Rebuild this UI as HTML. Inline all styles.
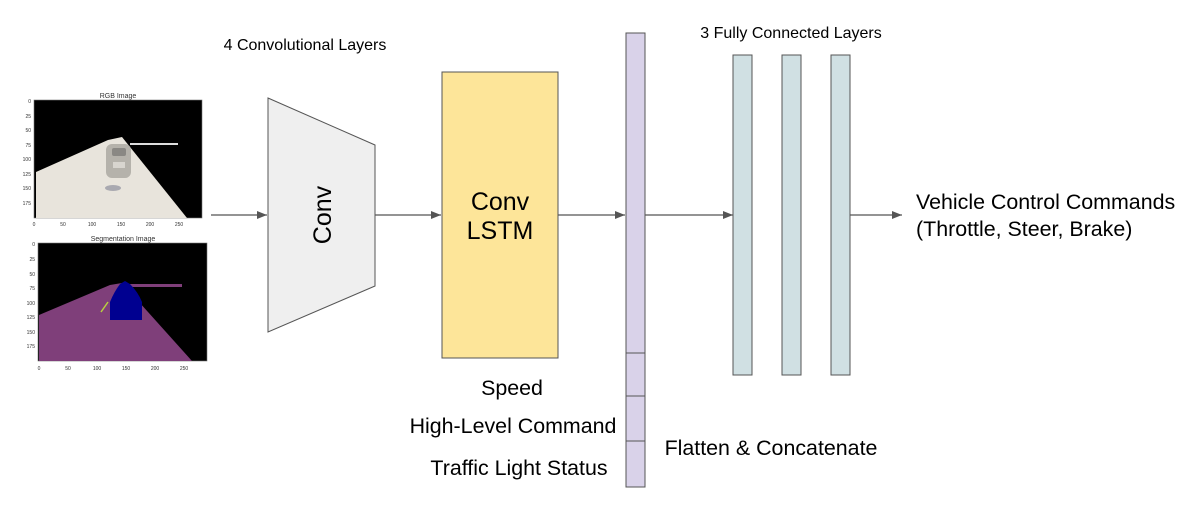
<!DOCTYPE html>
<html><head><style>
body{margin:0;background:#fff;}
svg{display:block;font-family:"Liberation Sans",sans-serif;}
</style></head><body>
<svg width="1198" height="506" viewBox="0 0 1198 506" xmlns="http://www.w3.org/2000/svg">
<defs><marker id="a" markerWidth="10" markerHeight="8" refX="10" refY="4" orient="auto" markerUnits="userSpaceOnUse"><path d="M0,0 L10,4 L0,8z" fill="#555"/></marker></defs>
<!-- RGB image -->
<text x="118" y="98" font-size="7" text-anchor="middle" fill="#333">RGB Image</text>
<rect x="34" y="100" width="168" height="118" fill="#000" stroke="#777" stroke-width="0.6"/>
<polygon points="36,172 108,140 122,137 187,218 36,218" fill="#e8e4dc"/>
<rect x="106" y="144" width="25" height="34" rx="6" fill="#b5b2ab"/>
<rect x="112" y="148" width="14" height="8" rx="2" fill="#8a8884"/>
<rect x="113" y="162" width="12" height="6" fill="#d8d5cf"/>
<rect x="130" y="143" width="48" height="2" fill="#ddd"/>
<ellipse cx="113" cy="188" rx="8" ry="3" fill="#a9a9b0"/>
<g font-size="5" fill="#333" text-anchor="end">
<text x="31" y="103">0</text><text x="31" y="118">25</text><text x="31" y="132">50</text><text x="31" y="147">75</text><text x="31" y="161">100</text><text x="31" y="176">125</text><text x="31" y="190">150</text><text x="31" y="205">175</text></g>
<g font-size="5" fill="#333" text-anchor="middle">
<text x="34" y="226">0</text><text x="63" y="226">50</text><text x="92" y="226">100</text><text x="121" y="226">150</text><text x="150" y="226">200</text><text x="179" y="226">250</text></g>
<!-- Seg image -->
<text x="123" y="241" font-size="7" text-anchor="middle" fill="#333">Segmentation Image</text>
<rect x="38" y="243" width="169" height="118" fill="#000" stroke="#777" stroke-width="0.6"/>
<polygon points="39,315 110,285 122,283 192,361 39,361" fill="#7f3f7a"/>
<rect x="122" y="284" width="60" height="3" fill="#7f3f7a"/>
<path d="M110,320 L110,302 Q114,292 120,284 L125,281 L130,284 Q138,292 142,302 L142,320z" fill="#000090"/>
<line x1="101" y1="312" x2="108" y2="302" stroke="#b8d040" stroke-width="1.5"/>
<g font-size="5" fill="#333" text-anchor="end">
<text x="35" y="246">0</text><text x="35" y="276">50</text><text x="35" y="290">75</text><text x="35" y="305">100</text><text x="35" y="319">125</text><text x="35" y="334">150</text><text x="35" y="348">175</text><text x="35" y="261">25</text></g>
<g font-size="5" fill="#333" text-anchor="middle">
<text x="39" y="370">0</text><text x="68" y="370">50</text><text x="97" y="370">100</text><text x="126" y="370">150</text><text x="155" y="370">200</text><text x="184" y="370">250</text></g>

<!-- arrows -->
<g stroke="#555" stroke-width="1.3" marker-end="url(#a)">
<line x1="211" y1="215" x2="267" y2="215"/>
<line x1="375" y1="215" x2="441" y2="215"/>
<line x1="558" y1="215" x2="625" y2="215"/>
<line x1="645" y1="215" x2="733" y2="215"/>
<line x1="850" y1="215" x2="902" y2="215"/>
</g>
<text x="305" y="50" font-size="16" text-anchor="middle">4 Convolutional Layers</text>
<polygon points="268,98 375,145 375,286 268,332" fill="#efefef" stroke="#555" stroke-width="1"/>
<text transform="translate(331,215) rotate(-90)" font-size="25" text-anchor="middle">Conv</text>
<rect x="442" y="72" width="116" height="286" fill="#fde599" stroke="#555" stroke-width="1"/>
<text x="500" y="210" font-size="25" text-anchor="middle">Conv</text>
<text x="500" y="239" font-size="25" text-anchor="middle">LSTM</text>
<rect x="626" y="33" width="19" height="454" fill="#d9d2e9" stroke="#555" stroke-width="1"/>
<g stroke="#555"><line x1="626" y1="353" x2="645" y2="353"/><line x1="626" y1="396" x2="645" y2="396"/><line x1="626" y1="441" x2="645" y2="441"/></g>
<text x="512" y="395" font-size="21.4" text-anchor="middle">Speed</text>
<text x="513" y="433" font-size="21.4" text-anchor="middle">High-Level Command</text>
<text x="519" y="475" font-size="21.4" text-anchor="middle">Traffic Light Status</text>
<text x="771" y="455" font-size="21.4" text-anchor="middle">Flatten &amp; Concatenate</text>
<text x="791" y="38" font-size="16" text-anchor="middle">3 Fully Connected Layers</text>
<g fill="#d0e0e3" stroke="#555" stroke-width="1">
<rect x="733" y="55" width="19" height="320"/><rect x="782" y="55" width="19" height="320"/><rect x="831" y="55" width="19" height="320"/></g>
<text x="916" y="209" font-size="21.4">Vehicle Control Commands</text>
<text x="916" y="236" font-size="21.4">(Throttle, Steer, Brake)</text>
</svg>
</body></html>
